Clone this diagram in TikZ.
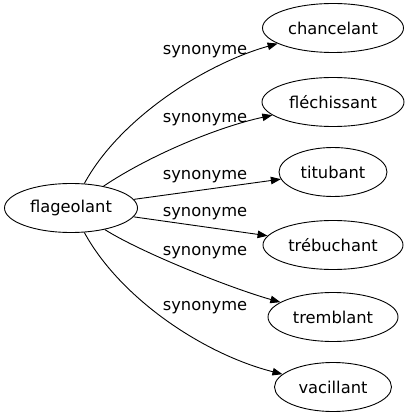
\documentclass[tikz,border=0pt]{standalone}
\usepackage{fontspec}
\setmainfont{DejaVu Sans}
\usetikzlibrary{shapes.geometric,arrows.meta}
\begin{document}
\begin{tikzpicture}[x=1pt,y=-1pt,
  word/.style={draw,ellipse,inner sep=0pt,minimum height=49pt,line width=0.9pt,font=\fontsize{16.3}{18}\selectfont},
  lbl/.style={inner sep=0pt,font=\fontsize{16.3}{18}\selectfont},
  syn/.style={line width=0.9pt,-{Triangle[length=10pt,width=7.5pt]}}]
\useasboundingbox (0,0) rectangle (409,419);
\node[word,minimum width=133pt] (f) at (71,208) {flageolant};
\node[word,minimum width=141pt] (c) at (333,28) {chancelant};
\node[word,minimum width=142pt] (fl) at (333,102) {fléchissant};
\node[word,minimum width=108pt] (t) at (333,172) {titubant};
\node[word,minimum width=140pt] (tr) at (333,245) {trébuchant};
\node[word,minimum width=130pt] (te) at (333,317) {tremblant};
\node[word,minimum width=117pt] (v) at (333,387) {vacillant};
\coordinate (a1) at (120,118);
\coordinate (b1) at (205,64);
\coordinate (a2) at (150,155);
\coordinate (b2) at (218,127);
\coordinate (a5) at (140,252);
\coordinate (b5) at (230,288);
\coordinate (a6) at (120,298);
\coordinate (b6) at (203,354);
\draw[syn] (f) .. controls (a1) and (b1) .. (c);
\draw[syn] (f) .. controls (a2) and (b2) .. (fl);
\draw[syn] (f) -- (t);
\draw[syn] (f) -- (tr);
\draw[syn] (f) .. controls (a5) and (b5) .. (te);
\draw[syn] (f) .. controls (a6) and (b6) .. (v);
\node[lbl] (l1) at (205,52) {synonyme};
\node[lbl] (l2) at (205,120) {synonyme};
\node[lbl] (l3) at (205,177) {synonyme};
\node[lbl] (l4) at (205,214) {synonyme};
\node[lbl] (l5) at (205,253) {synonyme};
\node[lbl] (l6) at (205,308) {synonyme};
\end{tikzpicture}
\end{document}
